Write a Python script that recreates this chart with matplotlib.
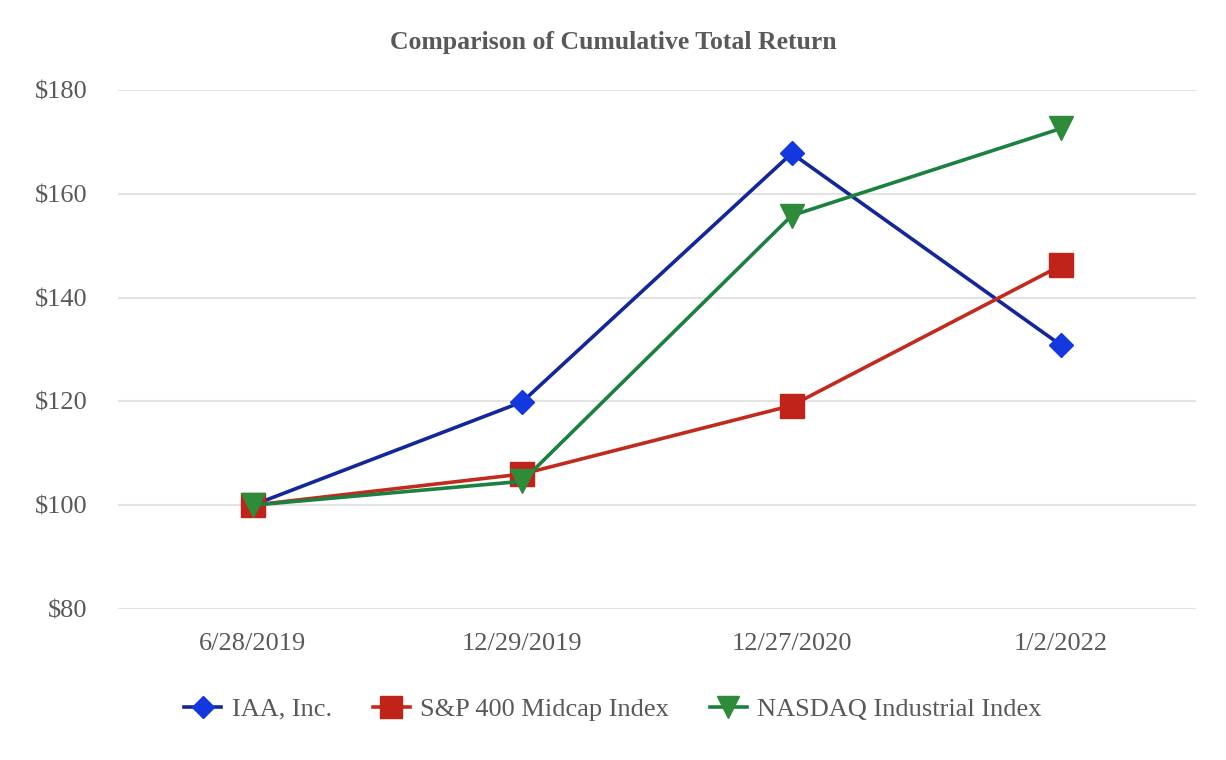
import matplotlib
matplotlib.use("Agg")
import matplotlib.pyplot as plt

dates = ["6/28/2019", "12/29/2019", "12/27/2020", "1/2/2022"]
iaa = [100, 119.9, 167.8, 130.8]
sp400 = [100, 106.0, 119.2, 146.2]
nasdaq = [100, 104.6, 155.8, 172.6]
yticks = [80, 100, 120, 140, 160, 180]

plt.rcParams['font.family'] = ['Liberation Serif', 'DejaVu Serif']
txt = '#595959'

fig = plt.figure(figsize=(12.26, 7.6), dpi=100)
ax = fig.add_axes([0.0962, 0.1987, 0.8793, 0.6829])

x = list(range(len(dates)))
ax.plot(x, iaa, color='#13269a', lw=2.6, marker='D', ms=12.5,
        mfc='#1438e0', mec='#1438e0', label='IAA, Inc.', zorder=3)
ax.plot(x, sp400, color='#c22a1e', lw=2.6, marker='s', ms=17,
        mfc='#c0231a', mec='#c0231a', label='S&P 400 Midcap Index', zorder=3)
ax.plot(x, nasdaq, color='#1c8040', lw=2.6, marker='v', ms=17,
        mfc='#2e8b3a', mec='#2e8b3a', label='NASDAQ Industrial Index', zorder=3)

ax.set_xlim(-0.5, 3.5)
ax.set_ylim(80, 180)
ax.set_yticks(yticks)
ax.set_yticklabels([f"${v}" for v in yticks])
ax.set_xticks(x)
ax.set_xticklabels(dates)
ax.tick_params(length=0, labelsize=19, colors=txt)
ax.tick_params(axis='x', pad=17)
ax.tick_params(axis='y', pad=22)
for s in ax.spines.values():
    s.set_visible(False)
ax.grid(axis='y', color='#e3e3e3', lw=1.5)
ax.set_axisbelow(True)

fig.text(0.5, 0.944, 'Comparison of Cumulative Total Return', ha='center', va='center',
         fontsize=18.5, fontweight='bold', color=txt)

leg = fig.legend(loc='center', bbox_to_anchor=(0.5, 0.067), ncol=3, frameon=False,
                 fontsize=19, handlelength=1.4, columnspacing=1.55, handletextpad=0.4,
                 markerscale=0.9)
for t in leg.get_texts():
    t.set_color(txt)

fig.savefig('out.png', dpi=100)
